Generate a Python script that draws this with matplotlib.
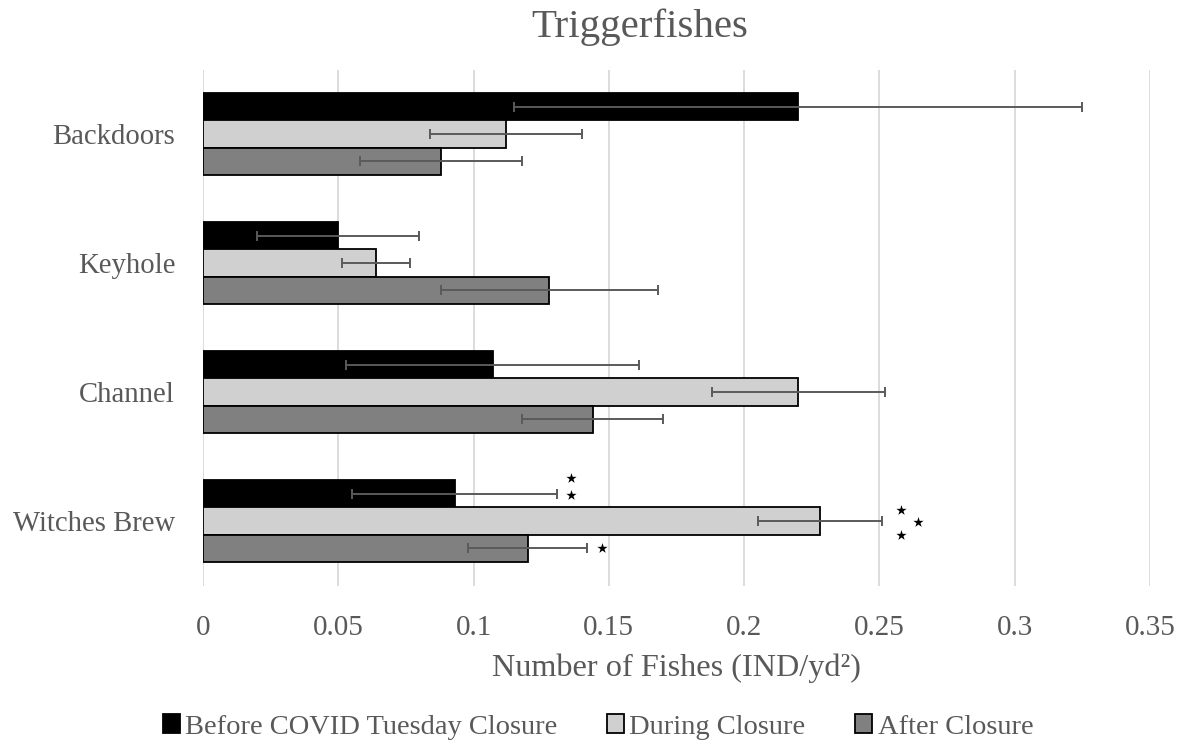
import matplotlib
matplotlib.use("Agg")
import matplotlib.pyplot as plt
import numpy as np

sites = ["Backdoors", "Keyhole", "Channel", "Witches Brew"]
series = ["Before COVID Tuesday Closure", "During Closure", "After Closure"]
before = [0.220, 0.050, 0.107, 0.093]
during = [0.112, 0.064, 0.220, 0.228]
after = [0.088, 0.128, 0.144, 0.120]
before_err = [0.105, 0.030, 0.054, 0.038]
during_err = [0.028, 0.0125, 0.032, 0.023]
after_err = [0.030, 0.040, 0.026, 0.022]
xticks = [0, 0.05, 0.1, 0.15, 0.2, 0.25, 0.3, 0.35]
xtick_labels = ["0", "0.05", "0.1", "0.15", "0.2", "0.25", "0.3", "0.35"]

# significance stars: (site index, series index, x value, vertical offset in bar heights)
stars = [(3, 0, 0.136, -0.6), (3, 0, 0.136, 0.05),
         (3, 1, 0.2578, -0.4), (3, 1, 0.2578, 0.5), (3, 1, 0.2644, 0.05),
         (3, 2, 0.1473, 0.0)]

colors = ["#000000", "#d0d0d0", "#808080"]
text_color = "#595959"
font = ["Liberation Serif", "DejaVu Serif"]
plt.rcParams["font.family"] = font

fig = plt.figure(figsize=(11.77, 7.42), dpi=100)
W, H = 1177, 742
left, right, top, bottom = 203, 1150, 69.5, 585.5
ax = fig.add_axes([left / W, 1 - bottom / H, (right - left) / W, (bottom - top) / H])

bh = 0.21
y = np.arange(len(sites))
vals = [before, during, after]
errs = [before_err, during_err, after_err]
offs = [-bh, 0, bh]
for i in range(3):
    ax.barh(y + offs[i], vals[i], height=bh, color=colors[i], edgecolor="#000000",
            linewidth=1.3, label=series[i], zorder=3)
    ax.errorbar(vals[i], y + offs[i], xerr=errs[i], fmt="none", ecolor="#5a5a5a",
                elinewidth=1.4, capsize=3.8, capthick=1.4, zorder=4)

for si, ser, xv, dy in stars:
    ax.scatter([xv], [si + offs[ser] + dy * bh], marker="*", s=60, color="#000000",
               zorder=5, linewidths=0)

ax.set_xlim(0, 0.35)
ax.set_ylim(len(sites) - 0.5, -0.5)
ax.set_xticks(xticks)
ax.set_xticklabels(xtick_labels)
ax.set_yticks(y)
ax.set_yticklabels(sites)
ax.tick_params(axis="both", length=0, colors=text_color)
ax.tick_params(axis="x", pad=21, labelsize=21)
ax.tick_params(axis="y", pad=20, labelsize=20.7)
for s in ax.spines.values():
    s.set_visible(False)
ax.grid(axis="x", color="#d9d9d9", linewidth=1.3, zorder=0)
ax.set_axisbelow(True)

ax.set_xlabel("Number of Fishes (IND/yd²)", fontsize=23.2, color=text_color, labelpad=9)
fig.text(640 / W, 1 - 37 / H, "Triggerfishes", ha="center", va="baseline",
         fontsize=29.5, color=text_color)

leg = fig.legend(loc="center", bbox_to_anchor=(598 / W, 1 - 727 / H), ncol=3,
                 frameon=False, fontsize=20.5, handlelength=0.6, handleheight=0.6,
                 handletextpad=0.18, columnspacing=1.75, borderaxespad=0, borderpad=0)
for t in leg.get_texts():
    t.set_color(text_color)

fig.savefig("out.png", dpi=100)
